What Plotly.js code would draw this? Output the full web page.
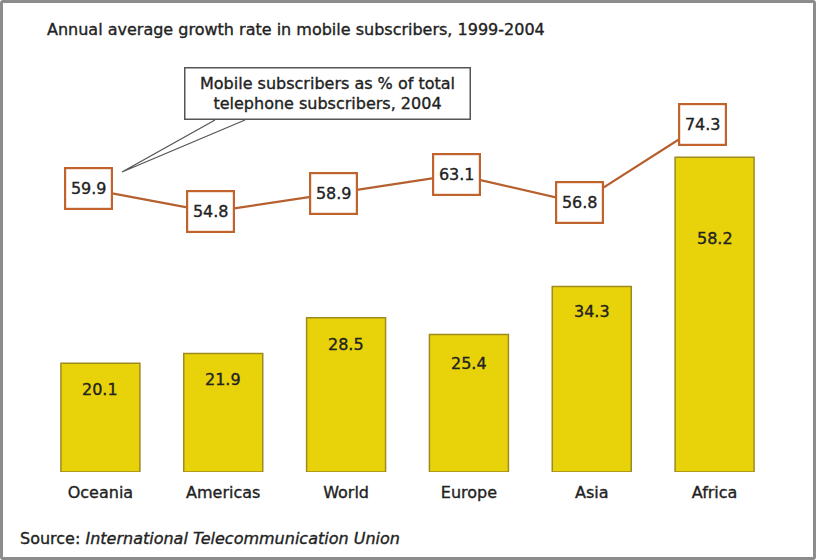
<!DOCTYPE html>
<html>
<head>
<meta charset="utf-8">
<script src="https://cdn.plot.ly/plotly-3.0.1.min.js"></script>
<style>
  html, body { margin: 0; padding: 0; background: #fff; }
  #wrap { position: relative; width: 816px; height: 560px; }
  #chart { width: 816px; height: 560px; }
  #frame { position: absolute; left: 0; top: 0; width: 816px; height: 560px; box-sizing: border-box;
           border: 3px solid #8c8c8c; border-radius: 3px; pointer-events: none; }
  #chart svg text { stroke: #222222; stroke-width: 0.35px; }
</style>
</head>
<body>
<div id="wrap"><div id="chart"></div><div id="frame"></div></div>
<script>
// ---- data ----
const regions = ["Oceania", "Americas", "World", "Europe", "Asia", "Africa"];
const growthRate = [20.1, 21.9, 28.5, 25.4, 34.3, 58.2];          // annual avg growth 1999-2004 (bars)
const mobileShare = [59.9, 54.8, 58.9, 63.1, 56.8, 74.3];          // mobile as % of total 2004 (line)
const titleText = "Annual average growth rate in mobile subscribers, 1999-2004";
const calloutText = "Mobile subscribers as % of total<br>telephone subscribers, 2004";
const sourceText = "Source: <i>International Telecommunication Union</i>";

// ---- styling / layout constants ----
const FONT = "DejaVu Sans, Verdana, sans-serif";
const FS = 16;
const TXT = "#222222";
const barLabelDrop = [26, 26, 27, 29, 25, 81];   // px below bar top for the bar value label

const bars = {
  type: "bar", x: regions, y: growthRate, xaxis: "x", yaxis: "y",
  width: 0.643,
  marker: { color: "#e8d30b", line: { color: "#9e8a1e", width: 1.5 } },
  hoverinfo: "skip"
};
const line = {
  type: "scatter", mode: "lines", x: regions, y: mobileShare, xaxis: "x2", yaxis: "y2",
  line: { color: "#b5602e", width: 2.2 }, hoverinfo: "skip"
};

const annotations = [];
regions.forEach((r, i) => {
  annotations.push({
    xref: "x", yref: "y", x: r, y: growthRate[i], yshift: -barLabelDrop[i],
    text: growthRate[i].toFixed(1), showarrow: false, yanchor: "middle",
    font: { family: FONT, size: FS, color: TXT }
  });
  annotations.push({
    xref: "x2", yref: "y2", x: r, y: mobileShare[i],
    text: mobileShare[i].toFixed(1), showarrow: false,
    width: 41, height: 35, borderpad: 2, borderwidth: 2.2,
    bordercolor: "#c0632c", bgcolor: "#ffffff",
    font: { family: FONT, size: FS, color: TXT }
  });
});
annotations.push({
  xref: "paper", yref: "paper", x: 0.3908, y: 0.876, xanchor: "center", yanchor: "middle",
  text: calloutText, showarrow: false, align: "center",
  width: 280, height: 46, borderpad: 2, borderwidth: 1.5, bordercolor: "#555555", bgcolor: "#ffffff",
  font: { family: FONT, size: FS, color: TXT }
});
annotations.push({
  xref: "paper", yref: "paper", x: -0.0285, y: -0.153, xanchor: "left", yanchor: "middle",
  text: sourceText, showarrow: false,
  font: { family: FONT, size: FS, color: TXT }
});

const layout = {
  width: 816, height: 560,
  margin: { l: 39, r: 40, t: 40, b: 88 },
  paper_bgcolor: "#ffffff", plot_bgcolor: "#ffffff",
  showlegend: false,
  title: {
    text: titleText, x: 47 / 816, xanchor: "left", xref: "container",
    y: 1 - 29 / 560, yanchor: "middle", yref: "container",
    font: { family: FONT, size: FS, color: TXT }
  },
  xaxis: {
    type: "category", categoryarray: regions, range: [-0.5, 5.5],
    showgrid: false, zeroline: false, showline: false,
    ticks: "outside", ticklen: 6, tickcolor: "rgba(0,0,0,0)",
    tickfont: { family: FONT, size: FS, color: TXT }, fixedrange: true
  },
  xaxis2: {
    type: "category", categoryarray: regions, overlaying: "x", range: [-0.4, 5.6],
    visible: false, fixedrange: true
  },
  yaxis: { range: [0, 79.85], visible: false, fixedrange: true },
  yaxis2: { range: [-3.35, 93.18], overlaying: "y", visible: false, fixedrange: true },
  shapes: [{
    type: "path", xref: "paper", yref: "paper", layer: "above",
    path: "M 0.2388 0.8148 L 0.1126 0.6944 L 0.2795 0.8148",
    line: { color: "#555555", width: 1.3 }
  }],
  annotations: annotations
};

Plotly.newPlot("chart", [bars, line], layout, { staticPlot: true, displayModeBar: false });
</script>
</body>
</html>
